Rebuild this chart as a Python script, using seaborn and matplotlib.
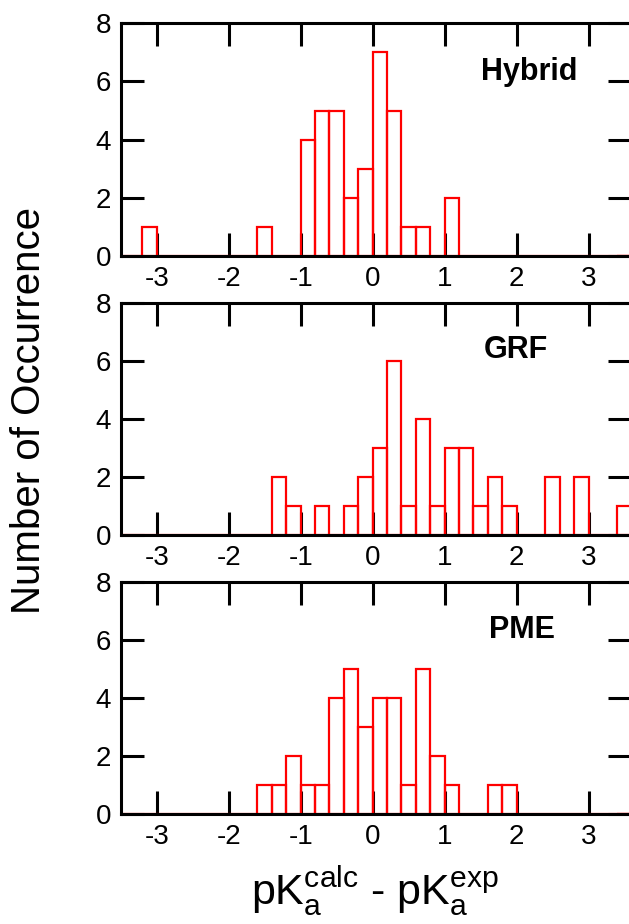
import numpy as np
import pandas as pd
import matplotlib
matplotlib.use("Agg")
import matplotlib.pyplot as plt
import seaborn as sns

# ---- data: bin left edges (width 0.2) and counts ----
hybrid_left = [-3.2, -1.6, -1.0, -0.8, -0.6, -0.4, -0.2, 0.0, 0.2, 0.4, 0.6, 1.0]
hybrid_counts = [1, 1, 4, 5, 5, 2, 3, 7, 5, 1, 1, 2]

grf_left = [-1.4, -1.2, -0.8, -0.4, -0.2, 0.0, 0.2, 0.4, 0.6, 0.8, 1.0, 1.2, 1.4,
            1.6, 1.8, 2.4, 2.8, 3.4]
grf_counts = [2, 1, 1, 1, 2, 3, 6, 1, 4, 1, 3, 3, 1, 2, 1, 2, 2, 1]

pme_left = [-1.6, -1.4, -1.2, -1.0, -0.8, -0.6, -0.4, -0.2, 0.0, 0.2, 0.4, 0.6,
            0.8, 1.0, 1.6, 1.8]
pme_counts = [1, 1, 2, 1, 1, 4, 5, 3, 4, 4, 1, 5, 2, 1, 1, 1]

panel_names = ["Hybrid", "GRF", "PME"]
x_ticks = [-3, -2, -1, 0, 1, 2, 3]
y_ticks = [0, 2, 4, 6, 8]

sns.set_style("ticks")
plt.rcParams["font.family"] = ["Liberation Sans", "DejaVu Sans"]
plt.rcParams["axes.unicode_minus"] = False
plt.rcParams["mathtext.fontset"] = "custom"
plt.rcParams["mathtext.rm"] = "Liberation Sans"
plt.rcParams["mathtext.it"] = "Liberation Sans"
plt.rcParams["text.color"] = "black"
plt.rcParams["axes.labelcolor"] = "black"
plt.rcParams["xtick.color"] = "black"
plt.rcParams["ytick.color"] = "black"

W, H = 629, 924
fig = plt.figure(figsize=(W / 100, H / 100), dpi=100)

left_px, right_px = 120.7, 631.0
panels_px = [(23.3, 256.0), (302.7, 535.0), (581.7, 814.3)]
label_pos = [(1.51, 6.05), (1.55, 6.08), (1.62, 6.07)]

datasets = [(hybrid_left, hybrid_counts), (grf_left, grf_counts), (pme_left, pme_counts)]

for i, ((lefts, counts), (top, bot)) in enumerate(zip(datasets, panels_px)):
    ax = fig.add_axes([left_px / W, 1 - bot / H, (right_px - left_px) / W, (bot - top) / H])
    df = pd.DataFrame({"x": np.array(lefts, dtype=float) + 0.1,
                       "n": np.array(counts, dtype=float)})
    sns.histplot(data=df, x="x", weights="n", binwidth=0.2, binrange=(-3.6, 3.6),
                 fill=False, element="bars", color="#ff0000", linewidth=1.6, ax=ax)
    ax.set_xlim(-3.5, 3.59)
    ax.set_ylim(0, 8)
    ax.set_xticks(x_ticks)
    ax.set_yticks(y_ticks)
    ax.set_xlabel("")
    ax.set_ylabel("")
    for s in ax.spines.values():
        s.set_visible(True)
        s.set_linewidth(2.2)
        s.set_color("black")
    ax.tick_params(direction="in", length=16.5, width=2.2, top=True, right=True,
                   labelsize=20, pad=7, colors="black")
    lx, ly = label_pos[i]
    ax.text(lx, ly, panel_names[i], fontsize=22, fontweight="bold",
            ha="left", va="baseline", color="black")

fig.text(29 / W, 1 - 410 / H, "Number of Occurrence", rotation=90,
         fontsize=29, ha="center", va="center", color="black")
fig.text(375.5 / W, 1 - 904 / H,
         r"$\mathregular{pK_a^{calc}}$ - $\mathregular{pK_a^{exp}}$",
         fontsize=31, ha="center", va="baseline", color="black")

fig.savefig("out.png", dpi=100)
